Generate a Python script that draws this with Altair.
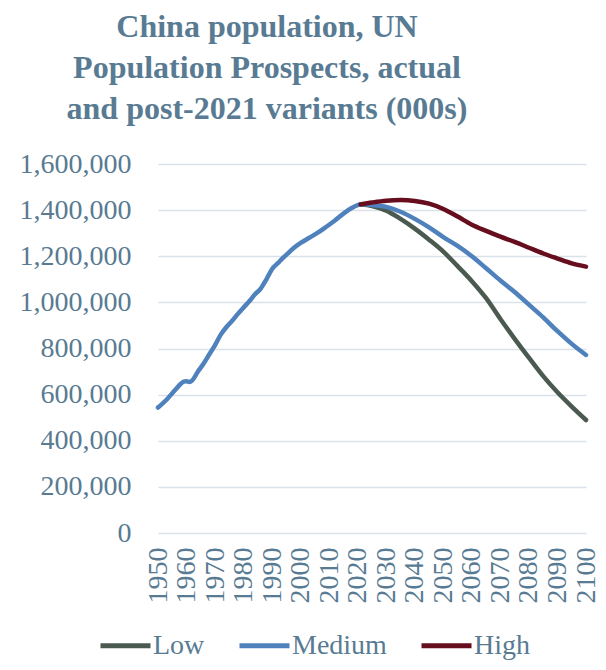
import altair as alt
import pandas as pd

# ---- data (thousands) ----
hist_years = [1950, 1953, 1956, 1958, 1959, 1960, 1961, 1962, 1964, 1966, 1968, 1970,
              1972, 1974, 1976, 1978, 1980, 1982, 1984, 1986, 1988, 1990, 1992, 1994,
              1996, 1998, 2000, 2003, 2006, 2009, 2012, 2015, 2018, 2020, 2021]
hist_values = [544000, 578000, 620000, 647000, 656000, 658000, 655000, 662000, 700000,
               735000, 775000, 815000, 860000, 893000, 920000, 950000, 978000, 1005000,
               1035000, 1060000, 1100000, 1145000, 1170000, 1195000, 1218000, 1240000,
               1258000, 1280000, 1302000, 1328000, 1355000, 1385000, 1410000, 1422000,
               1425000]

proj_years = [2021, 2025, 2030, 2035, 2040, 2045, 2050, 2055, 2060, 2065, 2070, 2075,
              2080, 2085, 2090, 2095, 2100]
low = [1425000, 1418000, 1398000, 1362000, 1320000, 1272000, 1220000, 1157000, 1092000,
       1018000, 928000, 842000, 760000, 680000, 610000, 548000, 490000]
medium = [1425000, 1422000, 1414000, 1393000, 1362000, 1325000, 1283000, 1245000,
          1200000, 1148000, 1095000, 1045000, 990000, 935000, 875000, 820000, 772000]
high = [1425000, 1433000, 1441000, 1444000, 1440000, 1428000, 1405000, 1372000, 1337000,
        1310000, 1285000, 1262000, 1237000, 1212000, 1190000, 1169000, 1155000]

series_names = ["Low", "Medium", "High"]
series_colors = ["#4b5a50", "#4f81bd", "#660d1e"]
title_lines = ["China population, UN", "Population Prospects, actual",
               "and post-2021 variants (000s)"]
x_ticks = list(range(1950, 2101, 10))
y_ticks = list(range(0, 1600001, 200000))

rows = []
for yr, v in zip(hist_years, hist_values):
    rows.append({"year": yr, "value": v, "series": "Medium"})
for yr, v in zip(proj_years[1:], medium[1:]):
    rows.append({"year": yr, "value": v, "series": "Medium"})
for yr, v in zip(proj_years, low):
    rows.append({"year": yr, "value": v, "series": "Low"})
for yr, v in zip(proj_years, high):
    rows.append({"year": yr, "value": v, "series": "High"})
df = pd.DataFrame(rows)

TEXT = "#587b93"
FONT = "Liberation Serif"

x = alt.X("year:Q",
          scale=alt.Scale(domain=[1950, 2100], nice=False, zero=False),
          axis=alt.Axis(values=x_ticks, format="d", labelAngle=270, grid=False,
                        ticks=False, domain=False, labelPadding=14, title=None,
                        labelFontSize=28, labelFont=FONT, labelColor=TEXT,
                        labelOverlap=False))
y = alt.Y("value:Q",
          scale=alt.Scale(domain=[0, 1600000], nice=False),
          axis=alt.Axis(values=y_ticks, format=",.0f", grid=True, gridColor="#d9e2ea",
                        gridWidth=1.5, domain=False, ticks=False, labelPadding=27,
                        title=None, labelFontSize=28, labelFont=FONT,
                        labelColor=TEXT))
color = alt.Color("series:N",
                  scale=alt.Scale(domain=series_names, range=series_colors),
                  sort=series_names,
                  legend=alt.Legend(orient="none", legendX=-60, legendY=454,
                                    direction="horizontal", title=None,
                                    symbolType="stroke", symbolSize=2500,
                                    symbolStrokeWidth=5, labelFontSize=28,
                                    labelFont=FONT, labelColor=TEXT,
                                    columnPadding=24, labelOffset=0))

layers = []
for name in series_names:
    layers.append(
        alt.Chart(df)
        .transform_filter(alt.datum.series == name)
        .mark_line(strokeWidth=4.5, interpolate="monotone", strokeCap="round")
        .encode(x=x, y=y, color=color)
    )

chart = (
    alt.layer(*layers)
    .properties(
        width=428, height=369,
        autosize=alt.AutoSizeParams(type="none"),
        padding={"left": 150, "top": 156, "right": 12, "bottom": 129},
        title=alt.Title(text=title_lines, fontSize=32, font=FONT, fontWeight="bold",
                        color=TEXT, anchor="middle", frame="group", dx=-105,
                        offset=24, lineHeight=41),
    )
    .configure_view(stroke=None)
)

chart.save("out.html", embed_options={"renderer": "svg", "actions": False})
